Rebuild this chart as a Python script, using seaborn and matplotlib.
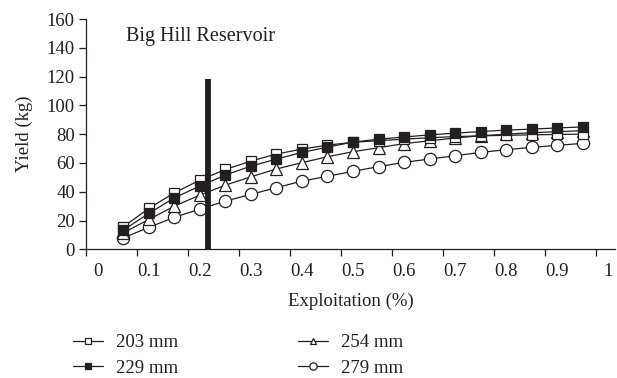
import matplotlib
matplotlib.use("Agg")
import matplotlib.pyplot as plt
from matplotlib.ticker import FixedLocator, NullFormatter, FixedFormatter
import numpy as np
import pandas as pd
import seaborn as sns

# Exploitation levels (fraction) and yields (kg) for each minimum length limit
exploitation = [0.05, 0.10, 0.15, 0.20, 0.25, 0.30, 0.35, 0.40, 0.45, 0.50,
                0.55, 0.60, 0.65, 0.70, 0.75, 0.80, 0.85, 0.90, 0.95]
yield_203 = [15.7, 28.5, 39.3, 48.1, 55.5, 61.3, 66.2, 69.6, 72.4, 74.3,
             75.5, 76.5, 77.5, 78.3, 78.8, 79.2, 79.5, 79.8, 80.0]
yield_229 = [13.4, 25.0, 35.8, 44.0, 51.6, 57.8, 62.7, 67.3, 71.0, 74.5,
             76.5, 78.0, 79.5, 80.7, 81.8, 82.8, 83.5, 84.3, 85.0]
yield_254 = [11.5, 20.8, 30.0, 37.7, 44.6, 50.4, 55.8, 60.2, 64.3, 67.8,
             70.6, 73.4, 75.4, 77.3, 78.9, 80.0, 81.0, 81.7, 82.4]
yield_279 = [8.0, 15.3, 22.2, 28.0, 33.5, 38.2, 42.8, 47.4, 50.7, 54.2,
             57.4, 60.4, 62.7, 65.0, 67.3, 69.2, 70.8, 72.2, 73.6]
series_labels = ["203 mm", "229 mm", "254 mm", "279 mm"]

# Current exploitation marker (vertical bar)
current_exploitation = 0.215
bar_top = 118

x_tick_labels = ["0", "0.1", "0.2", "0.3", "0.4", "0.5", "0.6", "0.7", "0.8", "0.9", "1"]
y_ticks = [0, 20, 40, 60, 80, 100, 120, 140, 160]

sns.set_theme(style="white")
plt.rcParams["font.family"] = ["Liberation Serif", "DejaVu Serif"]
plt.rcParams["text.color"] = "#231f20"
plt.rcParams["axes.labelcolor"] = "#231f20"
plt.rcParams["xtick.color"] = "#231f20"
plt.rcParams["ytick.color"] = "#231f20"

FS = 13.5

df = pd.DataFrame({
    "x": exploitation * 4,
    "y": yield_203 + yield_229 + yield_254 + yield_279,
    "series": np.repeat(series_labels, len(exploitation)),
})

fig = plt.figure(figsize=(6.17, 3.78), dpi=100)
ax = fig.add_axes([86 / 617, 1 - 249.3 / 378, (615 - 86) / 617, (249.3 - 19) / 378])

styles = {
    "203 mm": dict(marker="s", markerfacecolor="white", markersize=7.8),
    "229 mm": dict(marker="s", markerfacecolor="#231f20", markersize=7.8),
    "254 mm": dict(marker="^", markerfacecolor="white", markersize=8.3),
    "279 mm": dict(marker="o", markerfacecolor="white", markersize=8.8),
}
order_draw = ["279 mm", "254 mm", "203 mm", "229 mm"]
handles = {}
for name in order_draw:
    sub = df[df["series"] == name]
    sns.lineplot(data=sub, x="x", y="y", ax=ax, color="#231f20", linewidth=0.9,
                 markeredgecolor="#231f20", markeredgewidth=0.9, label=name,
                 legend=False, **styles[name])
    handles[name] = ax.lines[-1]

ax.vlines(current_exploitation, 0, bar_top, color="#231f20", linewidth=4.2, zorder=10)

ax.text(0.055, 147.6, "Big Hill Reservoir", fontsize=14.5, va="center", ha="left")

# Axis limits and ticks: tick marks sit a little left of each label
off = -0.0235
ax.set_xlim(off, 1.0137)
ax.set_ylim(0, 160)
ax.xaxis.set_major_locator(FixedLocator([k * 0.1 + off for k in range(11)]))
ax.xaxis.set_major_formatter(NullFormatter())
ax.xaxis.set_minor_locator(FixedLocator([k * 0.1 for k in range(11)]))
ax.xaxis.set_minor_formatter(FixedFormatter(x_tick_labels))
ax.tick_params(axis="x", which="major", direction="out", length=5, width=0.9, bottom=True)
ax.tick_params(axis="x", which="minor", length=0, pad=10, labelsize=FS, bottom=True)
ax.set_yticks(y_ticks)
ax.tick_params(axis="y", direction="out", length=5, width=0.9, labelsize=FS, left=True, pad=3)

for s in ["top", "right"]:
    ax.spines[s].set_visible(False)
for s in ["left", "bottom"]:
    ax.spines[s].set_color("#231f20")
    ax.spines[s].set_linewidth(0.9)

ax.set_xlabel("Exploitation (%)", fontsize=FS, labelpad=9)
ax.set_ylabel("Yield (kg)", fontsize=FS, labelpad=10)

leg_kw = dict(loc="upper left", frameon=False, fontsize=FS, handlelength=1.6,
              handletextpad=0.7, labelspacing=0.45, borderpad=0, borderaxespad=0,
              markerscale=0.6)
fig.legend([handles["203 mm"], handles["229 mm"]], ["203 mm", "229 mm"],
           bbox_to_anchor=(73 / 617, 1 - 334 / 378), **leg_kw)
fig.legend([handles["254 mm"], handles["279 mm"]], ["254 mm", "279 mm"],
           bbox_to_anchor=(298 / 617, 1 - 334 / 378), **leg_kw)

fig.savefig("out.png", dpi=100)
